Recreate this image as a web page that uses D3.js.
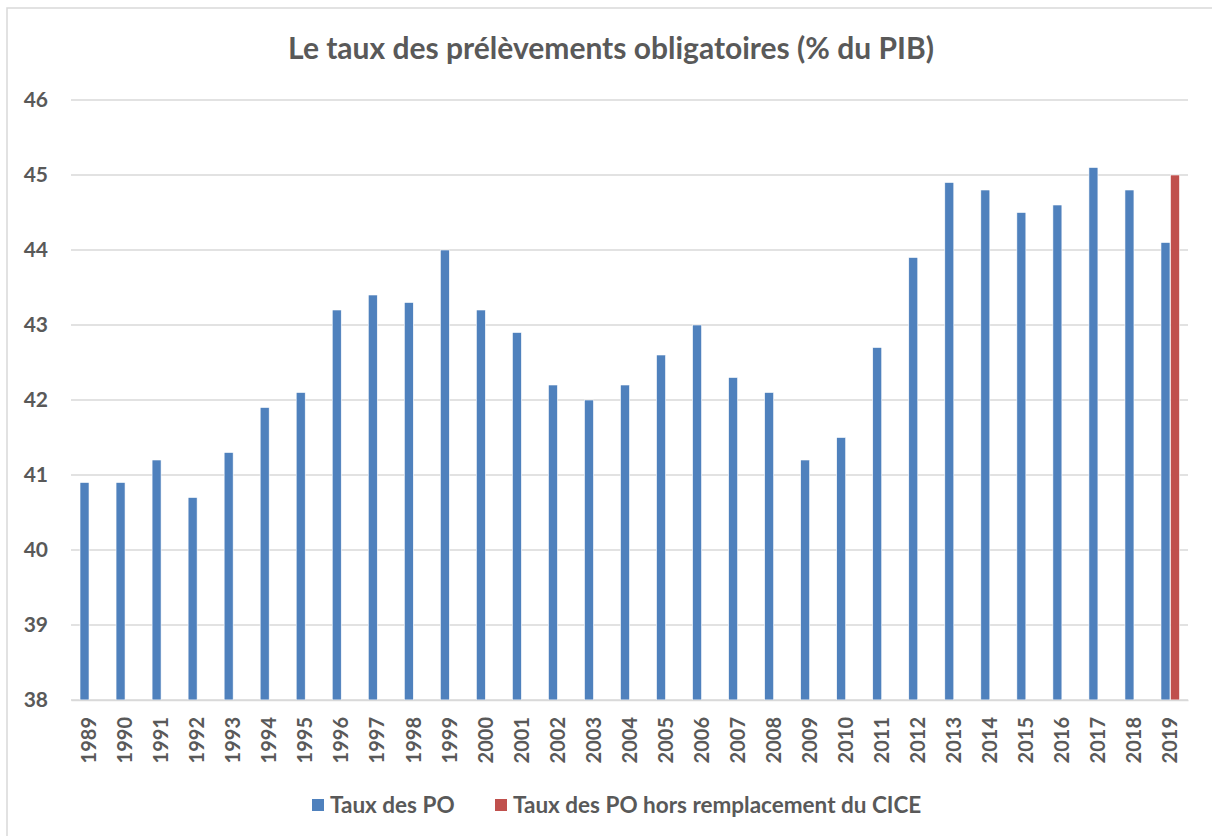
<!DOCTYPE html>
<html>
<head>
<meta charset="utf-8">
<script src="https://cdn.jsdelivr.net/npm/d3@7"></script>
<style>
  body { margin: 0; background: #fff; }
  svg text { font-family: Lato, "Open Sans", sans-serif; font-weight: bold; fill: #595959; }
</style>
</head>
<body>
<svg id="chart" width="1212" height="836"></svg>
<script>
// data
var years = ['1989','1990','1991','1992','1993','1994','1995','1996','1997','1998',
  '1999','2000','2001','2002','2003','2004','2005','2006','2007','2008',
  '2009','2010','2011','2012','2013','2014','2015','2016','2017','2018','2019'];
var tauxPO = [40.9, 40.9, 41.2, 40.7, 41.3, 41.9, 42.1, 43.2, 43.4, 43.3,
  44.0, 43.2, 42.9, 42.2, 42.0, 42.2, 42.6, 43.0, 42.3, 42.1,
  41.2, 41.5, 42.7, 43.9, 44.9, 44.8, 44.5, 44.6, 45.1, 44.8, 44.1];
// only 2019 has a value for the second series
var tauxHorsCICE = [null, null, null, null, null, null, null, null, null, null,
  null, null, null, null, null, null, null, null, null, null,
  null, null, null, null, null, null, null, null, null, null, 45.0];
var yTicks = [38, 39, 40, 41, 42, 43, 44, 45, 46];
var seriesNames = ['Taux des PO', 'Taux des PO hors remplacement du CICE'];
var colors = ['#4F81BD', '#C0504D'];

var margin = { top: 100, right: 24, bottom: 136, left: 71 };
var W = 1212, H = 836;
var width = W - margin.left - margin.right;
var height = H - margin.top - margin.bottom;

var svg = d3.select('#chart');

// outer chart border
svg.append('rect')
  .attr('x', 7).attr('y', 8)
  .attr('width', W).attr('height', H)
  .attr('fill', 'none')
  .attr('stroke', '#D9D9D9')
  .attr('stroke-width', 1.5);

svg.append('text')
  .attr('x', 611).attr('y', 59)
  .attr('text-anchor', 'middle')
  .style('font-size', '30px')
  .text('Le taux des prélèvements obligatoires (% du PIB)');

var g = svg.append('g')
  .attr('transform', 'translate(' + margin.left + ',' + margin.top + ')');

var x = d3.scaleBand()
  .domain(years)
  .range([0, width]);

var y = d3.scaleLinear()
  .domain([38, 46])
  .range([height, 0]);

// gridlines
g.append('g')
  .selectAll('line')
  .data(yTicks)
  .enter().append('line')
  .attr('x1', 0).attr('x2', width)
  .attr('y1', function(d) { return y(d); })
  .attr('y2', function(d) { return y(d); })
  .attr('stroke', '#D9D9D9')
  .attr('stroke-width', 1.5);

var barW = 9;

var blueData = years.map(function(yr, i) { return { year: yr, v: tauxPO[i] }; });
var redData = years.map(function(yr, i) { return { year: yr, v: tauxHorsCICE[i] }; })
  .filter(function(d) { return d.v != null; });

g.append('g').selectAll('rect')
  .data(blueData)
  .enter().append('rect')
  .attr('x', function(d) { return x(d.year) + x.bandwidth() / 2 - barW; })
  .attr('y', function(d) { return y(d.v); })
  .attr('width', barW)
  .attr('height', function(d) { return height - y(d.v); })
  .attr('fill', colors[0])
  .attr('stroke', '#fff')
  .attr('stroke-width', 0.6);

g.append('g').selectAll('rect')
  .data(redData)
  .enter().append('rect')
  .attr('x', function(d) { return x(d.year) + x.bandwidth() / 2 + 0.5; })
  .attr('y', function(d) { return y(d.v); })
  .attr('width', barW)
  .attr('height', function(d) { return height - y(d.v); })
  .attr('fill', colors[1])
  .attr('stroke', '#fff')
  .attr('stroke-width', 0.6);

// axes
var yAxis = d3.axisLeft(y).tickValues(yTicks).tickSize(0).tickPadding(23);
var ya = g.append('g').call(yAxis);
ya.select('.domain').remove();
ya.selectAll('text').style('font-size', '21px').attr('fill', '#595959');

var xAxis = d3.axisBottom(x).tickSize(0);
var xa = g.append('g')
  .attr('transform', 'translate(0,' + height + ')')
  .call(xAxis);
xa.select('.domain').attr('stroke', '#D9D9D9').attr('stroke-width', 1.5);
xa.selectAll('text')
  .style('font-size', '20px')
  .attr('fill', '#595959')
  .attr('text-anchor', 'end')
  .attr('transform', 'rotate(-90)')
  .attr('x', -17)
  .attr('y', 0)
  .attr('dy', '0.36em');

// legend
var legendX = [312, 495];
var legend = svg.append('g').selectAll('g')
  .data(seriesNames)
  .enter().append('g')
  .attr('transform', function(d, i) { return 'translate(' + legendX[i] + ',805)'; });
legend.append('rect')
  .attr('x', 0).attr('y', -6)
  .attr('width', 12).attr('height', 12)
  .attr('fill', function(d, i) { return colors[i]; });
legend.append('text')
  .attr('x', 18).attr('y', 0)
  .attr('dy', '0.36em')
  .style('font-size', '22.5px')
  .text(function(d) { return d; });
</script>
</body>
</html>
